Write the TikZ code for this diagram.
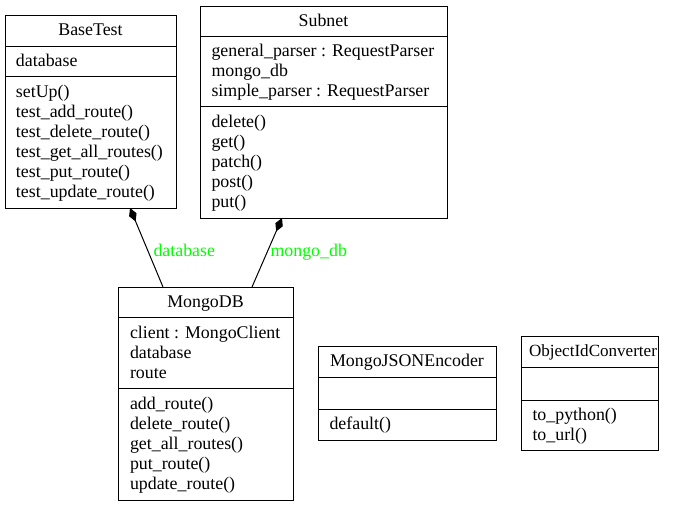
\documentclass[tikz,border=0pt]{standalone}
\usepackage{fontspec}
\setmainfont{Liberation Serif}
\usetikzlibrary{arrows.meta}
\begin{document}
\begin{tikzpicture}[x=0.75pt,y=-0.75pt,
  line width=0.75pt,
  classbox/.style={draw, inner sep=0pt, anchor=north west},
  member/.style={anchor=base west, inner sep=0pt, font=\fontsize{13.4}{15}\selectfont},
  title/.style={anchor=base, inner sep=0pt, font=\fontsize{13.4}{15}\selectfont},
  rolelabel/.style={anchor=base west, inner sep=0pt, text=green, font=\fontsize{13.4}{15}\selectfont},
  composition/.style={-{Diamond[length=11pt,width=6pt,fill=black]}}]
\useasboundingbox (0,0) rectangle (684,505);

% BaseTest
\node[classbox, minimum width=0.75pt*171, minimum height=0.75pt*193] (basetest) at (5,15) {};
\draw (5,46.5) -- (176,46.5);
\draw (5,77) -- (176,77);
\node[title] (bt-t) at (90.5,36) {BaseTest};
\node[member] (bt-a1) at (15.5,66.5) {database};
\node[member] (bt-m1) at (15.5,98) {setUp()};
\node[member] (bt-m2) at (15.5,118) {test\_add\_route()};
\node[member] (bt-m3) at (15.5,138) {test\_delete\_route()};
\node[member] (bt-m4) at (15.5,158) {test\_get\_all\_routes()};
\node[member] (bt-m5) at (15.5,178) {test\_put\_route()};
\node[member] (bt-m6) at (15.5,198) {test\_update\_route()};

% Subnet
\node[classbox, minimum width=0.75pt*247, minimum height=0.75pt*212] (subnet) at (200,6) {};
\draw (200,36.5) -- (447,36.5);
\draw (200,107) -- (447,107);
\node[title] (sn-t) at (323.5,26.5) {Subnet};
\node[member] (sn-a1) at (211,56.5) {general\_parser : RequestParser};
\node[member] (sn-a2) at (211,76.5) {mongo\_db};
\node[member] (sn-a3) at (211,96.5) {simple\_parser : RequestParser};
\node[member] (sn-m1) at (211,127.5) {delete()};
\node[member] (sn-m2) at (211,147.5) {get()};
\node[member] (sn-m3) at (211,167.5) {patch()};
\node[member] (sn-m4) at (211,187.5) {post()};
\node[member] (sn-m5) at (211,207.5) {put()};

% MongoDB
\node[classbox, minimum width=0.75pt*175, minimum height=0.75pt*212.5] (mongodb) at (118,287) {};
\draw (118,318) -- (293,318);
\draw (118,388.5) -- (293,388.5);
\node[title] (md-t) at (205.5,307.5) {MongoDB};
\node[member] (md-a1) at (129.5,338.5) {client : MongoClient};
\node[member] (md-a2) at (129.5,358.5) {database};
\node[member] (md-a3) at (129.5,378.5) {route};
\node[member] (md-m1) at (129.5,409) {add\_route()};
\node[member] (md-m2) at (129.5,429) {delete\_route()};
\node[member] (md-m3) at (129.5,449) {get\_all\_routes()};
\node[member] (md-m4) at (129.5,469) {put\_route()};
\node[member] (md-m5) at (129.5,489) {update\_route()};

% MongoJSONEncoder
\node[classbox, minimum width=0.75pt*178, minimum height=0.75pt*94] (encoder) at (318,346) {};
\draw (318,377) -- (496,377);
\draw (318,409) -- (496,409);
\node[title] (je-t) at (407,366.5) {MongoJSONEncoder};
\node[member] (je-m1) at (329,429.5) {default()};

% ObjectIdConverter
\node[classbox, minimum width=0.75pt*137, minimum height=0.75pt*114] (converter) at (521,336) {};
\draw (521,367) -- (658,367);
\draw (521,400) -- (658,400);
\node[title, font=\fontsize{12.8}{15}\selectfont] (oc-t) at (593,356.5) {ObjectIdConverter};
\node[member] (oc-m1) at (532,420.5) {to\_python()};
\node[member] (oc-m2) at (532,440.5) {to\_url()};

% Composition ends
\coordinate (bt-end) at (130,208);
\coordinate (md-end1) at (163,287);
\coordinate (sn-end) at (282,218);
\coordinate (md-end2) at (252,287);

\draw[composition] (md-end1) -- (bt-end);
\draw[composition] (md-end2) -- (sn-end);
\node[rolelabel] (lbl-db) at (153,257) {database};
\node[rolelabel] (lbl-mongo) at (270,257) {mongo\_db};
\end{tikzpicture}
\end{document}
